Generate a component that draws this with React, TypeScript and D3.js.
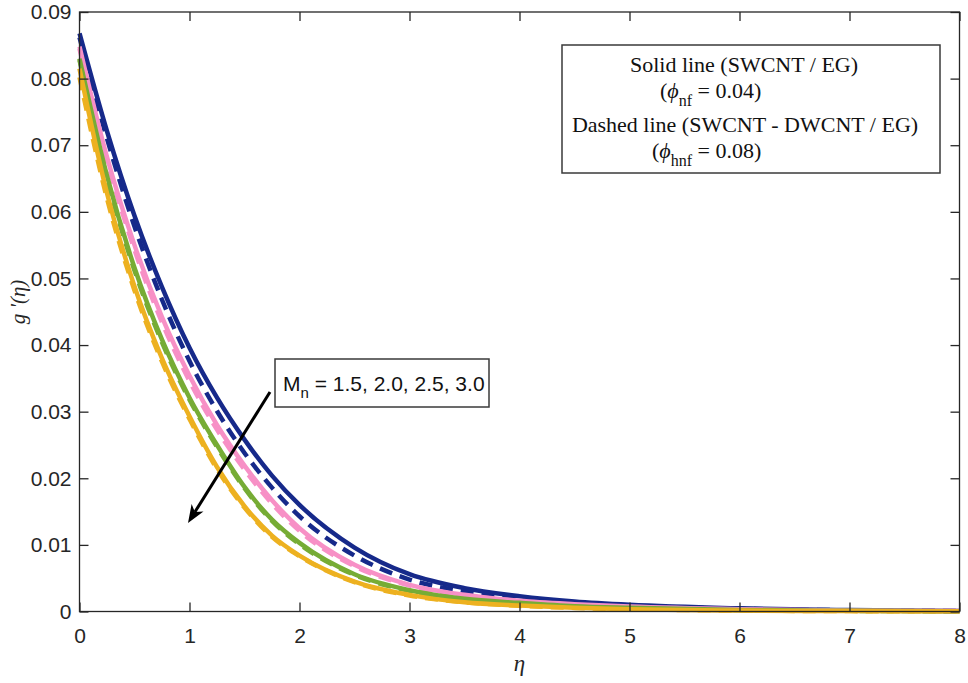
import React, { useEffect, useRef } from "react";
import * as d3 from "d3";

// eta sample points
const eta = [0, 0.25, 0.5, 0.75, 1, 1.25, 1.5, 1.75, 2, 2.5, 3, 3.5, 4, 4.5, 5, 6, 7, 8];

// solid lines: SWCNT / EG, Mn = 1.5, 2.0, 2.5, 3.0
const solidMn15 = [0.0868, 0.0721, 0.0594, 0.0487, 0.0396, 0.0321, 0.0258, 0.0204, 0.016, 0.0096, 0.0056, 0.0035, 0.0023, 0.0015, 0.001, 0.00047, 0.00021, 0.00009];
const solidMn20 = [0.0848, 0.0682, 0.055, 0.0442, 0.0354, 0.028, 0.0219, 0.0167, 0.0125, 0.007, 0.004, 0.0025, 0.0016, 0.0011, 0.00075, 0.00035, 0.00016, 0.00007];
const solidMn25 = [0.083, 0.0654, 0.0516, 0.0408, 0.0321, 0.025, 0.0187, 0.0138, 0.0103, 0.0056, 0.0032, 0.0019, 0.0013, 0.0008, 0.00055, 0.00024, 0.0001, 0.00004];
const solidMn30 = [0.0815, 0.0628, 0.0488, 0.038, 0.0293, 0.0217, 0.0158, 0.0114, 0.0084, 0.0045, 0.0025, 0.0014, 0.0009, 0.00055, 0.00035, 0.00014, 0.00006, 0.00002];

// dashed lines: SWCNT - DWCNT / EG
const dashedMn15 = [0.0862, 0.071, 0.0578, 0.0468, 0.0376, 0.0301, 0.0238, 0.0186, 0.0143, 0.0084, 0.0048, 0.003, 0.0019, 0.0013, 0.00088, 0.0004, 0.00018, 0.00008];
const dashedMn20 = [0.0845, 0.0677, 0.0543, 0.0434, 0.0346, 0.0273, 0.0213, 0.0162, 0.0121, 0.0068, 0.0039, 0.0024, 0.0016, 0.00105, 0.00072, 0.00034, 0.00015, 0.00007];
const dashedMn25 = [0.0828, 0.065, 0.0512, 0.0404, 0.0318, 0.0247, 0.0185, 0.0136, 0.0101, 0.0055, 0.0031, 0.0019, 0.0012, 0.0008, 0.00054, 0.00023, 0.0001, 0.00004];
const dashedMn30 = [0.0802, 0.062, 0.0482, 0.0375, 0.0289, 0.0214, 0.0156, 0.0112, 0.0083, 0.0044, 0.0024, 0.0014, 0.00085, 0.00054, 0.00034, 0.00014, 0.00006, 0.00002];

const solidSeries = [solidMn15, solidMn20, solidMn25, solidMn30];
const dashedSeries = [dashedMn15, dashedMn20, dashedMn25, dashedMn30];
const lineColors = ["#16298a", "#f790c6", "#76ac35", "#edb120"];

const xTicks = [0, 1, 2, 3, 4, 5, 6, 7, 8];
const yTicks = [0, 0.01, 0.02, 0.03, 0.04, 0.05, 0.06, 0.07, 0.08, 0.09];
const yTickLabels = ["0", "0.01", "0.02", "0.03", "0.04", "0.05", "0.06", "0.07", "0.08", "0.09"];

const W = 968;
const H = 683;

const App: React.FC = () => {
  const svgRef = useRef<SVGSVGElement>(null);

  useEffect(() => {
    if (!svgRef.current) return;
    const svg = d3.select(svgRef.current);
    svg.selectAll("*").remove();

    const left = 79.5;
    const right = 959.5;
    const top = 12;
    const bottom = 611.5;
    const axisColor = "#262626";
    const sans = "'Liberation Sans', Arial, sans-serif";
    const serif = "'Liberation Serif', 'Times New Roman', serif";

    const x = d3.scaleLinear().domain([0, 8]).range([left, right]);
    const y = d3.scaleLinear().domain([0, 0.09]).range([bottom, top]);

    svg.append("rect").attr("width", W).attr("height", H).attr("fill", "white");

    // curves
    const line = d3
      .line<number>()
      .x((_, i) => x(eta[i]))
      .y((d) => y(d))
      .curve(d3.curveMonotoneX);

    const curves = svg.append("g").attr("fill", "none");
    // dashed underneath, solid on top
    dashedSeries.forEach((s, i) => {
      curves
        .append("path")
        .attr("d", line(s))
        .attr("stroke", lineColors[i])
        .attr("stroke-width", 4.5)
        .attr("stroke-dasharray", "13,8");
    });
    solidSeries.forEach((s, i) => {
      curves
        .append("path")
        .attr("d", line(s))
        .attr("stroke", lineColors[i])
        .attr("stroke-width", 4.5);
    });

    // axes box
    svg
      .append("rect")
      .attr("x", left)
      .attr("y", top)
      .attr("width", right - left)
      .attr("height", bottom - top)
      .attr("fill", "none")
      .attr("stroke", axisColor)
      .attr("stroke-width", 1.3);

    const styleAxis = (g: d3.Selection<SVGGElement, unknown, null, undefined>) => {
      g.select(".domain").remove();
      g.selectAll(".tick line").attr("stroke", axisColor).attr("stroke-width", 1.3);
      g.selectAll(".tick text")
        .attr("fill", axisColor)
        .style("font-family", sans)
        .style("font-size", "21px");
    };

    svg
      .append("g")
      .attr("transform", `translate(0,${bottom})`)
      .call(d3.axisBottom(x).tickValues(xTicks).tickSize(-9).tickPadding(17).tickFormat(d3.format("d")))
      .call(styleAxis);
    svg
      .append("g")
      .attr("transform", `translate(0,${top})`)
      .call(d3.axisTop(x).tickValues(xTicks).tickSize(-9).tickFormat(() => ""))
      .call(styleAxis);
    svg
      .append("g")
      .attr("transform", `translate(${left},0)`)
      .call(
        d3
          .axisLeft(y)
          .tickValues(yTicks)
          .tickSize(-9)
          .tickPadding(8)
          .tickFormat((_, i) => yTickLabels[i])
      )
      .call(styleAxis);
    svg
      .append("g")
      .attr("transform", `translate(${right},0)`)
      .call(d3.axisRight(y).tickValues(yTicks).tickSize(-9).tickFormat(() => ""))
      .call(styleAxis);

    // axis labels
    svg
      .append("text")
      .attr("x", (left + right) / 2)
      .attr("y", 671)
      .attr("text-anchor", "middle")
      .style("font-family", serif)
      .style("font-style", "italic")
      .style("font-size", "23px")
      .attr("fill", axisColor)
      .text("η");

    const yl = svg
      .append("text")
      .attr("transform", "translate(25,302) rotate(-90)")
      .attr("text-anchor", "middle")
      .style("font-family", serif)
      .style("font-style", "italic")
      .style("font-size", "21px")
      .attr("fill", axisColor);
    yl.append("tspan").text("g ");
    yl.append("tspan").text("'(");
    yl.append("tspan").text("η");
    yl.append("tspan").text(")");

    // legend box
    const lg = svg.append("g");
    lg.append("rect")
      .attr("x", 562)
      .attr("y", 45)
      .attr("width", 378)
      .attr("height", 128)
      .attr("fill", "white")
      .attr("stroke", "#3a3a3a")
      .attr("stroke-width", 1.5);
    const lgText = (yy: number, xx: number, anchor: string) =>
      lg
        .append("text")
        .attr("x", xx)
        .attr("y", yy)
        .attr("text-anchor", anchor)
        .style("font-family", serif)
        .style("font-size", "22px")
        .attr("fill", "#111");

    lgText(72, 744, "middle").text("Solid line (SWCNT / EG)");
    const l2 = lgText(98, 660, "start");
    l2.append("tspan").text("(");
    l2.append("tspan").style("font-style", "italic").text("ϕ");
    l2.append("tspan").attr("dy", 8).style("font-size", "16px").text("nf");
    l2.append("tspan").attr("dy", -8).text(" = 0.04)");
    lgText(132, 745, "middle").text("Dashed line (SWCNT - DWCNT / EG)");
    const l4 = lgText(158, 652, "start");
    l4.append("tspan").text("(");
    l4.append("tspan").style("font-style", "italic").text("ϕ");
    l4.append("tspan").attr("dy", 8).style("font-size", "16px").text("hnf");
    l4.append("tspan").attr("dy", -8).text(" = 0.08)");

    // Mn annotation
    const an = svg.append("g");
    an.append("rect")
      .attr("x", 275)
      .attr("y", 359)
      .attr("width", 214)
      .attr("height", 48)
      .attr("fill", "white")
      .attr("stroke", "#3a3a3a")
      .attr("stroke-width", 1.5);
    const mt = an
      .append("text")
      .attr("x", 283)
      .attr("y", 391)
      .style("font-family", sans)
      .style("font-size", "21px")
      .attr("fill", "#111");
    mt.append("tspan").text("M");
    mt.append("tspan").attr("dy", 7).style("font-size", "15px").text("n");
    mt.append("tspan").attr("dy", -7).text(" = 1.5, 2.0, 2.5, 3.0");

    // arrow
    const x0 = 270, y0 = 392, x1 = 188, y1 = 523;
    const ang = Math.atan2(y1 - y0, x1 - x0);
    const hl = 18, hw = 7, notch = 13;
    an.append("line")
      .attr("x1", x0)
      .attr("y1", y0)
      .attr("x2", x1 - Math.cos(ang) * notch)
      .attr("y2", y1 - Math.sin(ang) * notch)
      .attr("stroke", "black")
      .attr("stroke-width", 3);
    const bx = x1 - Math.cos(ang) * hl;
    const by = y1 - Math.sin(ang) * hl;
    const nx = x1 - Math.cos(ang) * notch;
    const ny = y1 - Math.sin(ang) * notch;
    const px = -Math.sin(ang) * hw;
    const py = Math.cos(ang) * hw;
    an.append("path")
      .attr("d", `M${x1},${y1}L${bx + px},${by + py}L${nx},${ny}L${bx - px},${by - py}Z`)
      .attr("fill", "black");
  }, []);

  return (
    <svg
      ref={svgRef}
      width={W}
      height={H}
      style={{ position: "absolute", left: 0, top: 0, display: "block" }}
    />
  );
};

export default App;
